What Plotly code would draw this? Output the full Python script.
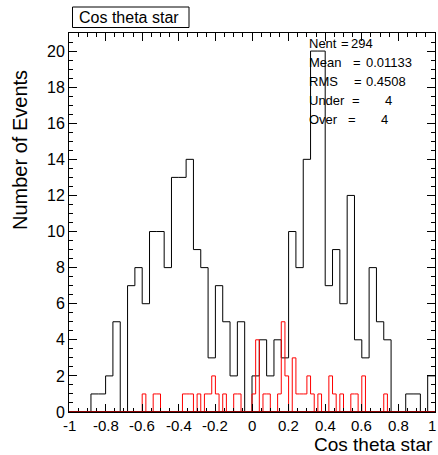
import numpy as np
import plotly.graph_objects as go

# ---- data ----
x_min, x_max = -1.0, 1.0
black_counts = [0, 0, 0, 1, 1, 2, 5, 0, 7, 8,
                6, 10, 10, 8, 13, 13, 14, 9, 8, 3,
                7, 5, 2, 5, 0, 2, 4, 2, 4, 3,
                10, 8, 14, 20, 20, 7, 9, 6, 12, 4,
                3, 8, 5, 4, 0, 0, 1, 1, 0, 2]
red_counts = [0, 0, 0, 0, 0, 0, 0, 0, 0, 0,
              0, 0, 0, 0, 0, 0, 0, 0, 0, 0,
              1, 0, 0, 1, 1, 0, 0, 0, 0, 0,
              0, 1, 1, 1, 0, 1, 0, 1, 1, 2,
              1, 0, 1, 0, 0, 1, 1, 0, 0, 0,
              1, 4, 0, 1, 1, 0, 0, 1, 5, 2,
              0, 3, 1, 1, 1, 2, 1, 0, 1, 0,
              0, 2, 1, 0, 1, 0, 0, 1, 1, 0,
              2, 0, 0, 0, 0, 0, 1, 0, 0, 0,
              0, 0, 0, 0, 0, 0, 0, 0, 0, 0]
x_tickvals = [-1, -0.8, -0.6, -0.4, -0.2, 0, 0.2, 0.4, 0.6, 0.8, 1]
x_ticktext = ["-1", "-0.8", "-0.6", "-0.4", "-0.2", "0", "0.2", "0.4", "0.6", "0.8", "1"]
y_tickvals = [0, 2, 4, 6, 8, 10, 12, 14, 16, 18, 20]
stats_labels = ["Nent", "Mean", "RMS", "Under", "Over"]
stats_values = ["294", "0.01133", "0.4508", "4", "4"]
title_text = "Cos theta star"
x_title = "Cos theta star"
y_title = "Number of Events"

W, H = 438, 455
L, R, T, B = 69, 3, 33, 43
FONT = "Liberation Sans, Arial, sans-serif"


def step_xy(counts):
    n = len(counts)
    edges = np.linspace(x_min, x_max, n + 1)
    xs = list(edges)
    ys = list(counts) + [counts[-1]]
    return xs, ys


fig = go.Figure()
bx, by = step_xy(black_counts)
rx, ry = step_xy(red_counts)
fig.add_trace(go.Scatter(x=bx, y=by, mode="lines", line=dict(shape="hv", color="black", width=1),
                         showlegend=False, hoverinfo="skip", cliponaxis=False))
fig.add_trace(go.Scatter(x=rx, y=ry, mode="lines", line=dict(shape="hv", color="red", width=1),
                         showlegend=False, hoverinfo="skip", cliponaxis=False))

pw = W - L - R
ph = H - T - B


def px2paper(px, py):
    return (px - L) / pw, (H - B - py) / ph


anns = []
# stats text
FS = 13
label_x = 307
eq_x = [339, 351, 352, 350, 346]
val_x = [349, 364, 364, 383, 379]
row_y = [44, 62.5, 81.5, 100.5, 119.5]
for i in range(len(stats_labels)):
    ax, ay = px2paper(label_x, row_y[i])
    anns.append(dict(x=ax, y=ay, xref="paper", yref="paper", text=stats_labels[i], showarrow=False,
                     xanchor="left", yanchor="middle", font=dict(family=FONT, size=FS, color="black")))
    ex, ey = px2paper(eq_x[i], row_y[i])
    anns.append(dict(x=ex, y=ey, xref="paper", yref="paper", text="=", showarrow=False,
                     xanchor="left", yanchor="middle", font=dict(family=FONT, size=FS, color="black")))
    vx, vy = px2paper(val_x[i], row_y[i])
    anns.append(dict(x=vx, y=vy, xref="paper", yref="paper", text=stats_values[i], showarrow=False,
                     xanchor="left", yanchor="middle", font=dict(family=FONT, size=FS, color="black")))

# x tick labels as annotations
TICK_Y = 425.5
_, tly = px2paper(0, TICK_Y)
for v, t in zip(x_tickvals, x_ticktext):
    if v >= x_max:
        rx_, _ = px2paper(437.5, TICK_Y)
        anns.append(dict(x=rx_, y=tly, xref="paper", yref="paper", text=t, showarrow=False,
                         xanchor="right", yanchor="middle",
                         font=dict(family=FONT, size=15, color="black")))
    else:
        anns.append(dict(x=v, y=tly, xref="x", yref="paper", text=t, showarrow=False,
                         xanchor="center", yanchor="middle",
                         font=dict(family=FONT, size=15, color="black")))

# title box
tx, ty = px2paper(76.5, 17.5)
anns.append(dict(x=tx, y=ty, xref="paper", yref="paper", text=title_text, showarrow=False,
                 xanchor="left", yanchor="middle", font=dict(family=FONT, size=16, color="black")))
bx0, by0 = px2paper(72.5, 27.5)
bx1, by1 = px2paper(189, 7)
shapes = [dict(type="rect", xref="paper", yref="paper", x0=bx0, y0=by0, x1=bx1, y1=by1,
               line=dict(color="black", width=1), fillcolor="white")]
# dark red baseline along the x axis
shapes.append(dict(type="line", xref="x", yref="y", x0=x_min, x1=x_max, y0=0, y1=0,
                   line=dict(color="#8a0000", width=2), layer="above"))

# x axis title
xx, xy = px2paper(435, 444.8)
anns.append(dict(x=xx, y=xy, xref="paper", yref="paper", text=x_title, showarrow=False,
                 xanchor="right", yanchor="middle",
                 font=dict(family=FONT, size=19, color="black")))
# y axis title
yx, yy = px2paper(20, 150)
anns.append(dict(x=yx, y=yy, xref="paper", yref="paper", text=y_title, showarrow=False,
                 textangle=-90, xanchor="center", yanchor="middle",
                 font=dict(family=FONT, size=20, color="black")))

fig.update_layout(
    width=W, height=H,
    margin=dict(l=L, r=R, t=T, b=B, pad=0),
    paper_bgcolor="white", plot_bgcolor="white",
    annotations=anns, shapes=shapes,
    xaxis=dict(range=[x_min, x_max], tickvals=x_tickvals, showticklabels=False,
               ticks="inside", ticklen=8, tickcolor="black", tickwidth=1,
               minor=dict(ticks="inside", dtick=0.05, ticklen=4, tickcolor="black", showgrid=False),
               showline=True, linecolor="black", linewidth=1, mirror="allticks",
               showgrid=False, zeroline=False),
    yaxis=dict(range=[0, 21], tickvals=y_tickvals,
               ticks="inside", ticklen=8, tickcolor="black", tickwidth=1,
               minor=dict(ticks="inside", dtick=0.5, ticklen=4, tickcolor="black", showgrid=False),
               showline=True, linecolor="black", linewidth=1, mirror="allticks",
               showgrid=False, zeroline=False,
               tickfont=dict(family=FONT, size=16, color="black")),
)

fig.write_html("out.html")
